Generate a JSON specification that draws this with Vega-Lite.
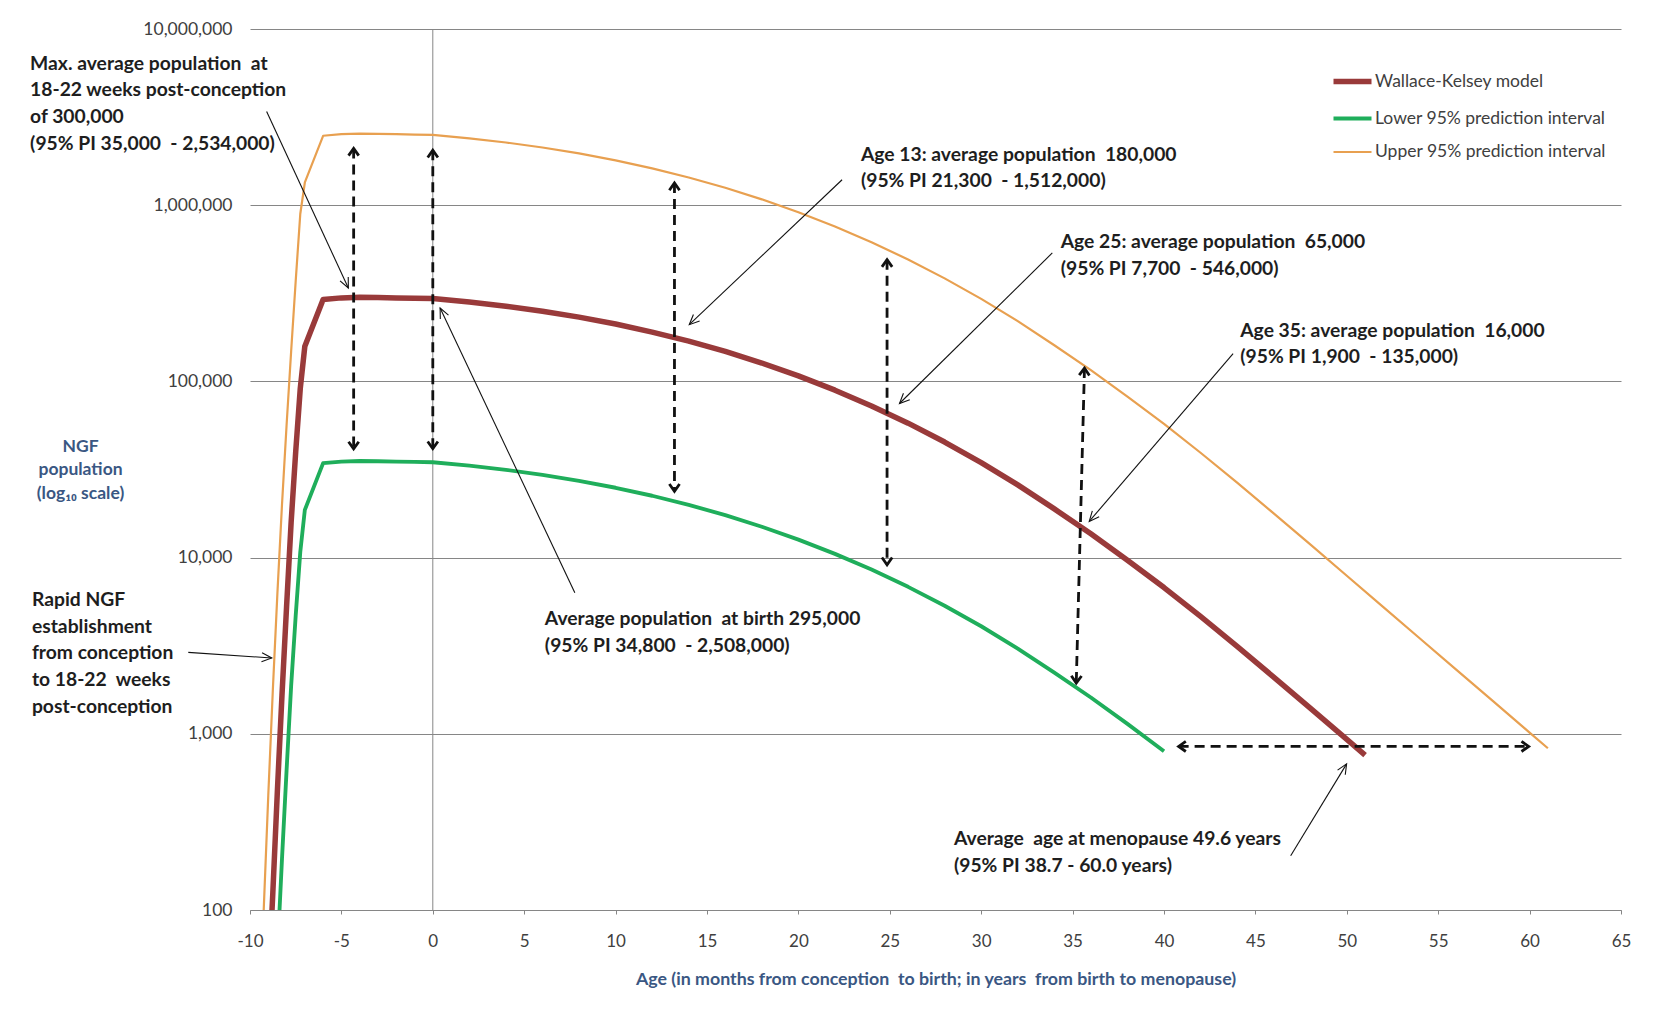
{
  "$schema": "https://vega.github.io/schema/vega-lite/v6.json",
  "width": 1371,
  "height": 881,
  "autosize": {"type": "none"},
  "padding": {"left": 250, "top": 29, "right": 54, "bottom": 102},
  "background": "white",
  "config": {"font": "Lato", "view": {"stroke": null}},
  "datasets": {
    "curves": [
      {"series": "Upper 95% prediction interval", "age": -9.5, "population": 20},
      {"series": "Upper 95% prediction interval", "age": -9.25, "population": 100},
      {"series": "Upper 95% prediction interval", "age": -9.0, "population": 447},
      {"series": "Upper 95% prediction interval", "age": -8.75, "population": 1778},
      {"series": "Upper 95% prediction interval", "age": -8.5, "population": 6310},
      {"series": "Upper 95% prediction interval", "age": -8.25, "population": 19953},
      {"series": "Upper 95% prediction interval", "age": -8.0, "population": 56234},
      {"series": "Upper 95% prediction interval", "age": -7.75, "population": 147910},
      {"series": "Upper 95% prediction interval", "age": -7.5, "population": 371540},
      {"series": "Upper 95% prediction interval", "age": -7.25, "population": 891250},
      {"series": "Upper 95% prediction interval", "age": -7.0, "population": 1345900},
      {"series": "Upper 95% prediction interval", "age": -6, "population": 2477400},
      {"series": "Upper 95% prediction interval", "age": -5, "population": 2529300},
      {"series": "Upper 95% prediction interval", "age": -4, "population": 2546800},
      {"series": "Upper 95% prediction interval", "age": -3, "population": 2541000},
      {"series": "Upper 95% prediction interval", "age": -2, "population": 2529300},
      {"series": "Upper 95% prediction interval", "age": -1, "population": 2517700},
      {"series": "Upper 95% prediction interval", "age": 0, "population": 2506100},
      {"series": "Upper 95% prediction interval", "age": 2, "population": 2397200},
      {"series": "Upper 95% prediction interval", "age": 4, "population": 2269900},
      {"series": "Upper 95% prediction interval", "age": 6, "population": 2125200},
      {"series": "Upper 95% prediction interval", "age": 8, "population": 1966500},
      {"series": "Upper 95% prediction interval", "age": 10, "population": 1796400},
      {"series": "Upper 95% prediction interval", "age": 12, "population": 1618100},
      {"series": "Upper 95% prediction interval", "age": 14, "population": 1436500},
      {"series": "Upper 95% prediction interval", "age": 16, "population": 1255700},
      {"series": "Upper 95% prediction interval", "age": 18, "population": 1079700},
      {"series": "Upper 95% prediction interval", "age": 20, "population": 912450},
      {"series": "Upper 95% prediction interval", "age": 22, "population": 757180},
      {"series": "Upper 95% prediction interval", "age": 24, "population": 616460},
      {"series": "Upper 95% prediction interval", "age": 26, "population": 491940},
      {"series": "Upper 95% prediction interval", "age": 28, "population": 384410},
      {"series": "Upper 95% prediction interval", "age": 30, "population": 293970},
      {"series": "Upper 95% prediction interval", "age": 32, "population": 219740},
      {"series": "Upper 95% prediction interval", "age": 34, "population": 160430},
      {"series": "Upper 95% prediction interval", "age": 36, "population": 115880},
      {"series": "Upper 95% prediction interval", "age": 38, "population": 82035},
      {"series": "Upper 95% prediction interval", "age": 40, "population": 57412},
      {"series": "Upper 95% prediction interval", "age": 42, "population": 39355},
      {"series": "Upper 95% prediction interval", "age": 44, "population": 26607},
      {"series": "Upper 95% prediction interval", "age": 46, "population": 17824},
      {"series": "Upper 95% prediction interval", "age": 48, "population": 11885},
      {"series": "Upper 95% prediction interval", "age": 50, "population": 7889},
      {"series": "Upper 95% prediction interval", "age": 52, "population": 5236},
      {"series": "Upper 95% prediction interval", "age": 54, "population": 3475},
      {"series": "Upper 95% prediction interval", "age": 56, "population": 2307},
      {"series": "Upper 95% prediction interval", "age": 58, "population": 1531},
      {"series": "Upper 95% prediction interval", "age": 60, "population": 1016},
      {"series": "Upper 95% prediction interval", "age": 61, "population": 828},
      {"series": "Lower 95% prediction interval", "age": -8.5, "population": 56.4},
      {"series": "Lower 95% prediction interval", "age": -8.25, "population": 195},
      {"series": "Lower 95% prediction interval", "age": -8.0, "population": 618},
      {"series": "Lower 95% prediction interval", "age": -7.75, "population": 1866},
      {"series": "Lower 95% prediction interval", "age": -7.5, "population": 4688},
      {"series": "Lower 95% prediction interval", "age": -7.25, "population": 10740},
      {"series": "Lower 95% prediction interval", "age": -7.0, "population": 18664},
      {"series": "Lower 95% prediction interval", "age": -6, "population": 34356},
      {"series": "Lower 95% prediction interval", "age": -5, "population": 35075},
      {"series": "Lower 95% prediction interval", "age": -4, "population": 35318},
      {"series": "Lower 95% prediction interval", "age": -3, "population": 35237},
      {"series": "Lower 95% prediction interval", "age": -2, "population": 35075},
      {"series": "Lower 95% prediction interval", "age": -1, "population": 34914},
      {"series": "Lower 95% prediction interval", "age": 0, "population": 34754},
      {"series": "Lower 95% prediction interval", "age": 2, "population": 33243},
      {"series": "Lower 95% prediction interval", "age": 4, "population": 31478},
      {"series": "Lower 95% prediction interval", "age": 6, "population": 29471},
      {"series": "Lower 95% prediction interval", "age": 8, "population": 27271},
      {"series": "Lower 95% prediction interval", "age": 10, "population": 24911},
      {"series": "Lower 95% prediction interval", "age": 12, "population": 22440},
      {"series": "Lower 95% prediction interval", "age": 14, "population": 19920},
      {"series": "Lower 95% prediction interval", "age": 16, "population": 17414},
      {"series": "Lower 95% prediction interval", "age": 18, "population": 14973},
      {"series": "Lower 95% prediction interval", "age": 20, "population": 12653},
      {"series": "Lower 95% prediction interval", "age": 22, "population": 10500},
      {"series": "Lower 95% prediction interval", "age": 24, "population": 8550},
      {"series": "Lower 95% prediction interval", "age": 26, "population": 6822},
      {"series": "Lower 95% prediction interval", "age": 28, "population": 5331},
      {"series": "Lower 95% prediction interval", "age": 30, "population": 4077},
      {"series": "Lower 95% prediction interval", "age": 32, "population": 3047},
      {"series": "Lower 95% prediction interval", "age": 34, "population": 2225},
      {"series": "Lower 95% prediction interval", "age": 36, "population": 1607},
      {"series": "Lower 95% prediction interval", "age": 38, "population": 1138},
      {"series": "Lower 95% prediction interval", "age": 40, "population": 796},
      {"series": "Wallace-Kelsey model", "age": -9.0, "population": 35.5},
      {"series": "Wallace-Kelsey model", "age": -8.75, "population": 126},
      {"series": "Wallace-Kelsey model", "age": -8.5, "population": 479},
      {"series": "Wallace-Kelsey model", "age": -8.25, "population": 1660},
      {"series": "Wallace-Kelsey model", "age": -8.0, "population": 5248},
      {"series": "Wallace-Kelsey model", "age": -7.75, "population": 15849},
      {"series": "Wallace-Kelsey model", "age": -7.5, "population": 39811},
      {"series": "Wallace-Kelsey model", "age": -7.25, "population": 91201},
      {"series": "Wallace-Kelsey model", "age": -7.0, "population": 158489},
      {"series": "Wallace-Kelsey model", "age": -6, "population": 291743},
      {"series": "Wallace-Kelsey model", "age": -5, "population": 297852},
      {"series": "Wallace-Kelsey model", "age": -4, "population": 299916},
      {"series": "Wallace-Kelsey model", "age": -3, "population": 299226},
      {"series": "Wallace-Kelsey model", "age": -2, "population": 297852},
      {"series": "Wallace-Kelsey model", "age": -1, "population": 296483},
      {"series": "Wallace-Kelsey model", "age": 0, "population": 295121},
      {"series": "Wallace-Kelsey model", "age": 2, "population": 282290},
      {"series": "Wallace-Kelsey model", "age": 4, "population": 267300},
      {"series": "Wallace-Kelsey model", "age": 6, "population": 250270},
      {"series": "Wallace-Kelsey model", "age": 8, "population": 231580},
      {"series": "Wallace-Kelsey model", "age": 10, "population": 211560},
      {"series": "Wallace-Kelsey model", "age": 12, "population": 190550},
      {"series": "Wallace-Kelsey model", "age": 14, "population": 169160},
      {"series": "Wallace-Kelsey model", "age": 16, "population": 147880},
      {"series": "Wallace-Kelsey model", "age": 18, "population": 127140},
      {"series": "Wallace-Kelsey model", "age": 20, "population": 107450},
      {"series": "Wallace-Kelsey model", "age": 22, "population": 89164},
      {"series": "Wallace-Kelsey model", "age": 24, "population": 72593},
      {"series": "Wallace-Kelsey model", "age": 26, "population": 57929},
      {"series": "Wallace-Kelsey model", "age": 28, "population": 45269},
      {"series": "Wallace-Kelsey model", "age": 30, "population": 34617},
      {"series": "Wallace-Kelsey model", "age": 32, "population": 25876},
      {"series": "Wallace-Kelsey model", "age": 34, "population": 18893},
      {"series": "Wallace-Kelsey model", "age": 36, "population": 13646},
      {"series": "Wallace-Kelsey model", "age": 38, "population": 9660},
      {"series": "Wallace-Kelsey model", "age": 40, "population": 6761},
      {"series": "Wallace-Kelsey model", "age": 42, "population": 4634},
      {"series": "Wallace-Kelsey model", "age": 44, "population": 3133},
      {"series": "Wallace-Kelsey model", "age": 46, "population": 2099},
      {"series": "Wallace-Kelsey model", "age": 48, "population": 1400},
      {"series": "Wallace-Kelsey model", "age": 50, "population": 929},
      {"series": "Wallace-Kelsey model", "age": 51, "population": 757}
    ],
    "dashed": [
      {"x": -4.33, "y": 2100000, "x2": -4.33, "y2": 41400},
      {"x": 0, "y": 2050000, "x2": 0, "y2": 41500},
      {"x": 13.22, "y": 1336000, "x2": 13.22, "y2": 23800},
      {"x": 24.85, "y": 491000, "x2": 24.85, "y2": 9110},
      {"x": 35.65, "y": 119000, "x2": 35.2, "y2": 1941},
      {"x": 40.8, "y": 848, "x2": 59.95, "y2": 848}
    ],
    "pointers": [
      {"x": -9.09, "y": 3406000, "x2": -4.62, "y2": 338800},
      {"x": 7.77, "y": 6324, "x2": 0.4, "y2": 260900},
      {"x": 22.39, "y": 1395000, "x2": 14.03, "y2": 209800},
      {"x": 33.89, "y": 536000, "x2": 25.53, "y2": 74900},
      {"x": 43.78, "y": 143600, "x2": 35.91, "y2": 16050},
      {"x": 46.93, "y": 203, "x2": 49.99, "y2": 675},
      {"x": -13.375, "y": 2897, "x2": -8.81, "y2": 2693}
    ],
    "notes": [
      {"text": "Max. average population\u00a0 at\n18-22 weeks post-conception\nof 300,000\n(95% PI 35,000\u00a0 - 2,534,000)", "x": -22.03, "y": 6345000},
      {"text": "Age 13: average population\u00a0 180,000\n(95% PI 21,300\u00a0 - 1,512,000)", "x": 23.42, "y": 1937000},
      {"text": "Age 25: average population\u00a0 65,000\n(95% PI 7,700\u00a0 - 546,000)", "x": 34.35, "y": 616600},
      {"text": "Age 35: average population\u00a0 16,000\n(95% PI 1,900\u00a0 - 135,000)", "x": 44.17, "y": 193700},
      {"text": "Average population\u00a0 at birth 295,000\n(95% PI 34,800\u00a0 - 2,508,000)", "x": 6.13, "y": 4465},
      {"text": "Average\u00a0 age at menopause 49.6 years\n(95% PI 38.7 - 60.0 years)", "x": 28.51, "y": 251.9},
      {"text": "Rapid NGF\nestablishment\nfrom conception\nto 18-22\u00a0 weeks\npost-conception", "x": -21.93, "y": 5745}
    ]
  },
  "layer": [
    {
      "data": {"values": [{"x": 0, "y": 100, "y2": 10000000}]},
      "mark": {"type": "rule", "color": "#868686", "strokeWidth": 1},
      "encoding": {
        "x": {"field": "x", "type": "quantitative", "scale": {"domain": [-10, 65], "nice": false, "zero": false},
          "axis": {"values": [-10, -5, 0, 5, 10, 15, 20, 25, 30, 35, 40, 45, 50, 55, 60, 65], "labelExpr": "replace(datum.label, '\u2212', '-')", "title": "Age (in months from conception\u00a0 to birth; in years\u00a0 from birth to menopause)", "grid": false, "domainColor": "#868686", "tickColor": "#868686", "tickSize": 4, "labelPadding": 19, "labelFontSize": 17, "labelColor": "#404040", "labelFont": "Lato", "labelFlush": false, "labelOverlap": false, "titleFont": "Lato", "titleFontSize": 17.8, "titleFontWeight": "bold", "titleColor": "#3a5783", "titlePadding": 21}},
        "y": {"field": "y", "type": "quantitative", "scale": {"type": "log", "domain": [100, 10000000], "nice": false},
          "axis": {"values": [100, 1000, 10000, 100000, 1000000, 10000000], "format": ",", "grid": true, "gridColor": "#868686", "gridWidth": 1, "domain": false, "ticks": false, "labelPadding": 18, "labelFontSize": 17.5, "labelColor": "#404040", "labelFont": "Lato", "labelFlush": false, "title": ["NGF", "population", "(log₁₀ scale)"], "titleAngle": 0, "titleX": -170, "titleY": 417, "titleAlign": "center", "titleBaseline": "middle", "titleFont": "Lato", "titleFontSize": 17.5, "titleFontWeight": "bold", "titleColor": "#3a5783", "titleLineHeight": 23.5}},
        "y2": {"field": "y2"}
      }
    },
    {
      "data": {"name": "curves"},
      "mark": {"type": "line", "clip": true, "strokeJoin": "round"},
      "encoding": {
        "x": {"field": "age", "type": "quantitative", "scale": {"domain": [-10, 65], "nice": false, "zero": false}},
        "y": {"field": "population", "type": "quantitative", "scale": {"type": "log", "domain": [100, 10000000], "nice": false}},
        "order": {"field": "age", "type": "quantitative"},
        "color": {"field": "series", "type": "nominal",
          "scale": {"domain": ["Wallace-Kelsey model", "Lower 95% prediction interval", "Upper 95% prediction interval"], "range": ["#993a3a", "#1fae5b", "#e8a050"]},
          "legend": {"title": null, "orient": "none", "legendX": 1090, "legendY": 40, "padding": 0, "symbolType": "M-2,0H2", "symbolSize": 361, "symbolStrokeWidth": 3, "labelOffset": 10, "rowPadding": 14, "labelFontSize": 17.5, "labelFont": "Lato", "labelColor": "#404040", "labelLimit": 400,
            "encode": {"symbols": {"update": {"strokeWidth": {"value": 3}}}}}},
        "strokeWidth": {"field": "series", "type": "nominal", "scale": {"domain": ["Wallace-Kelsey model", "Lower 95% prediction interval", "Upper 95% prediction interval"], "range": [5.5, 2.2, 2.2]}, "legend": null}
      }
    },
    {
      "data": {"name": "dashed"},
      "mark": {"type": "rule", "color": "#111111", "strokeWidth": 2.8, "strokeDash": [10, 6]},
      "encoding": {
        "x": {"field": "x", "type": "quantitative", "scale": {"domain": [-10, 65], "nice": false, "zero": false}},
        "y": {"field": "y", "type": "quantitative", "scale": {"type": "log", "domain": [100, 10000000], "nice": false}},
        "x2": {"field": "x2"},
        "y2": {"field": "y2"}
      }
    },
    {
      "data": {"name": "dashed"},
      "transform": [{"calculate": "atan2((datum.x2 - datum.x) * 1371 / 75, (log(datum.y2) - log(datum.y)) / LN10 * 881 / 5) * 180 / PI", "as": "ang"}],
      "mark": {"type": "point", "shape": "M-0.85,1.2L0,0L0.85,1.2", "filled": false, "stroke": "#111111", "strokeWidth": 2.8, "size": 144, "opacity": 1},
      "encoding": {
        "x": {"field": "x2", "type": "quantitative", "scale": {"domain": [-10, 65], "nice": false, "zero": false}},
        "y": {"field": "y2", "type": "quantitative", "scale": {"type": "log", "domain": [100, 10000000], "nice": false}},
        "angle": {"field": "ang", "type": "quantitative", "scale": null}
      }
    },
    {
      "data": {"name": "dashed"},
      "transform": [{"calculate": "atan2((datum.x2 - datum.x) * 1371 / 75, (log(datum.y2) - log(datum.y)) / LN10 * 881 / 5) * 180 / PI + 180", "as": "ang"}],
      "mark": {"type": "point", "shape": "M-0.85,1.2L0,0L0.85,1.2", "filled": false, "stroke": "#111111", "strokeWidth": 2.8, "size": 144, "opacity": 1},
      "encoding": {
        "x": {"field": "x", "type": "quantitative", "scale": {"domain": [-10, 65], "nice": false, "zero": false}},
        "y": {"field": "y", "type": "quantitative", "scale": {"type": "log", "domain": [100, 10000000], "nice": false}},
        "angle": {"field": "ang", "type": "quantitative", "scale": null}
      }
    },
    {
      "data": {"name": "pointers"},
      "mark": {"type": "rule", "color": "#111111", "strokeWidth": 1.1},
      "encoding": {
        "x": {"field": "x", "type": "quantitative", "scale": {"domain": [-10, 65], "nice": false, "zero": false}},
        "y": {"field": "y", "type": "quantitative", "scale": {"type": "log", "domain": [100, 10000000], "nice": false}},
        "x2": {"field": "x2"},
        "y2": {"field": "y2"}
      }
    },
    {
      "data": {"name": "pointers"},
      "transform": [{"calculate": "atan2((datum.x2 - datum.x) * 1371 / 75, (log(datum.y2) - log(datum.y)) / LN10 * 881 / 5) * 180 / PI", "as": "ang"}],
      "mark": {"type": "point", "shape": "M-0.45,1L0,0L0.45,1", "filled": false, "stroke": "#111111", "strokeWidth": 1.1, "size": 400, "opacity": 1},
      "encoding": {
        "x": {"field": "x2", "type": "quantitative", "scale": {"domain": [-10, 65], "nice": false, "zero": false}},
        "y": {"field": "y2", "type": "quantitative", "scale": {"type": "log", "domain": [100, 10000000], "nice": false}},
        "angle": {"field": "ang", "type": "quantitative", "scale": null}
      }
    },
    {
      "data": {"name": "notes"},
      "mark": {"type": "text", "align": "left", "baseline": "middle", "lineBreak": "\n", "lineHeight": 26.7, "font": "Lato", "fontSize": 19.3, "fontWeight": "bold", "color": "#1e1e1e"},
      "encoding": {
        "x": {"field": "x", "type": "quantitative", "scale": {"domain": [-10, 65], "nice": false, "zero": false}},
        "y": {"field": "y", "type": "quantitative", "scale": {"type": "log", "domain": [100, 10000000], "nice": false}},
        "text": {"field": "text"}
      }
    }
  ]
}
